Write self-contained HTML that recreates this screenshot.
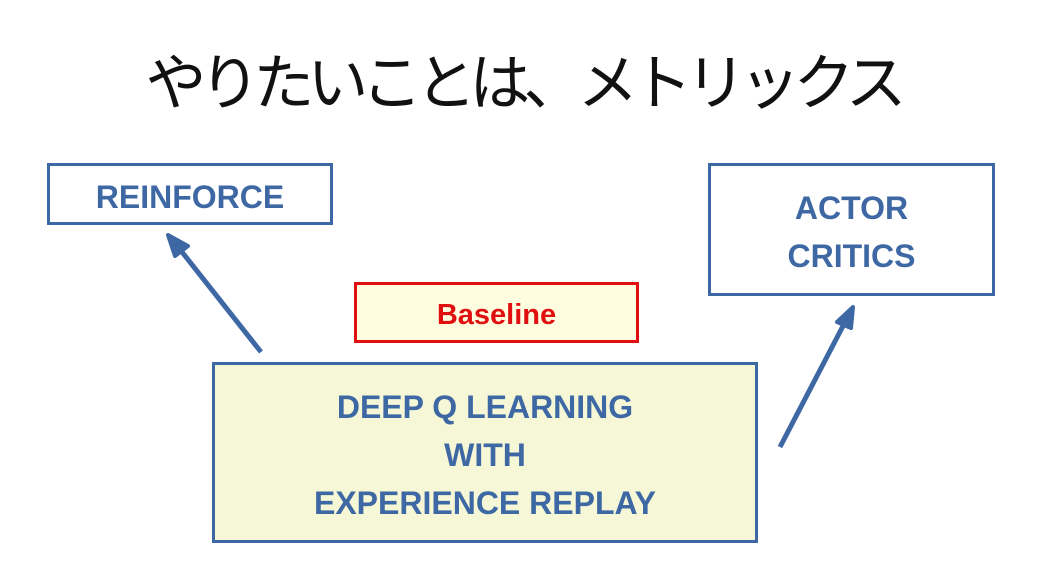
<!DOCTYPE html>
<html><head><meta charset="utf-8"><style>
body{margin:0;width:1045px;height:569px;background:#fff;position:relative;overflow:hidden;font-family:"Liberation Sans","Noto Sans CJK JP",sans-serif}
.b{position:absolute;box-sizing:border-box;border:3px solid #3d68a4;display:flex;align-items:center;justify-content:center;text-align:center;color:#3d68a4;font-size:32px;line-height:48px;font-weight:bold;padding-top:5px}
</style></head><body>
<div style="position:absolute;left:0;width:1045px;top:36px;text-align:center;font-size:61px;line-height:84px;color:#111;letter-spacing:-7px;font-family:'Noto Sans CJK JP',sans-serif">やりたいことは、メトリックス</div>
<div class="b" style="left:47px;top:163px;width:286px;height:62px">REINFORCE</div>
<div class="b" style="left:708px;top:163px;width:287px;height:133px">ACTOR<br>CRITICS</div>
<div class="b" style="left:354px;top:282px;width:285px;height:61px;border-color:#e01010;background:#fffde0;color:#e01010;font-size:29px">Baseline</div>
<div class="b" style="left:212px;top:362px;width:546px;height:181px;background:#f6f7d6">DEEP Q LEARNING<br>WITH<br>EXPERIENCE REPLAY</div>
<svg width="1045" height="569" style="position:absolute;left:0;top:0">
<line x1="261" y1="352" x2="182" y2="252" stroke="#3d68a4" stroke-width="5"/>
<polygon points="168,235 188,246 175,256" fill="#3d68a4" stroke="#3d68a4" stroke-width="4" stroke-linejoin="round"/>
<line x1="780" y1="447" x2="843" y2="326" stroke="#3d68a4" stroke-width="5"/>
<polygon points="853,307 851,328 837,322" fill="#3d68a4" stroke="#3d68a4" stroke-width="4" stroke-linejoin="round"/>
</svg>
</body></html>
